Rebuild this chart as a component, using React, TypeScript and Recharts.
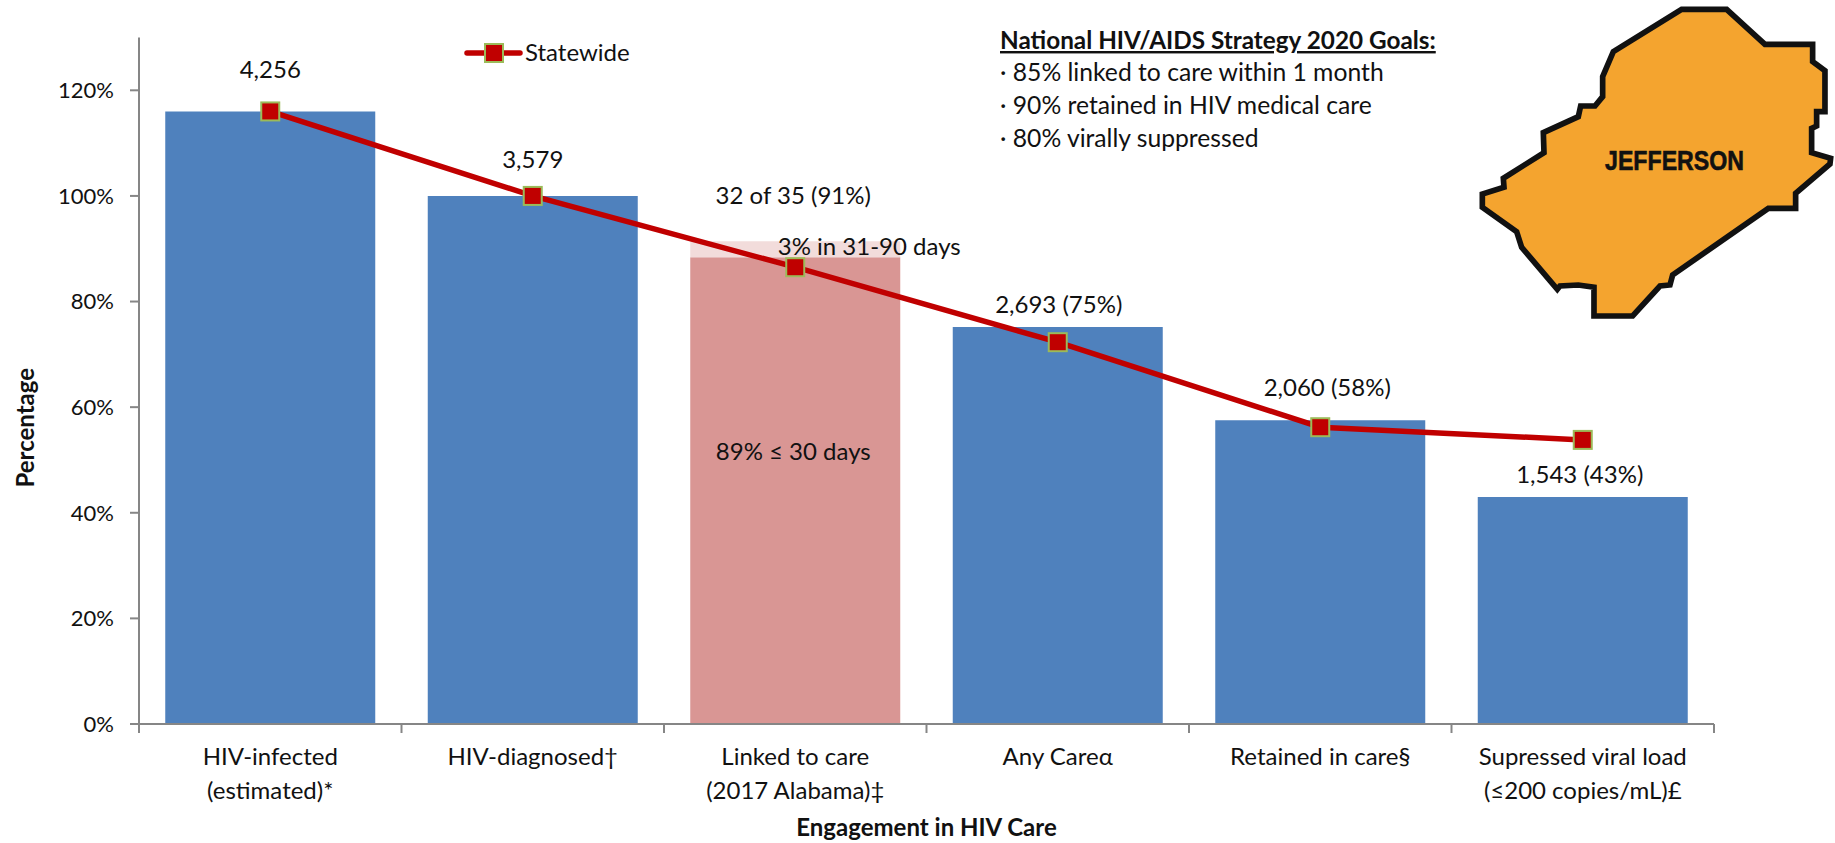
import React from "react";
import { ComposedChart, Bar, Line, XAxis, YAxis, Cell, LabelList, Legend } from "recharts";

const categories = [
  ["HIV-infected", "(estimated)*"],
  ["HIV-diagnosed†"],
  ["Linked to care", "(2017 Alabama)‡"],
  ["Any Careα"],
  ["Retained in care§"],
  ["Supressed viral load", "(≤200 copies/mL)£"],
];
const barValues = [116, 100, 88.4, 75.2, 57.5, 43];
const extraValues = [0, 0, 3, 0, 0, 0];
const statewide = [116, 100, 86.5, 72.3, 56.2, 53.8];
const topLabels = ["4,256", "3,579", "32 of 35 (91%)", "2,693 (75%)", "2,060 (58%)", "1,543 (43%)"];
const innerLabels = ["", "", "89% ≤ 30 days", "", "", ""];
const extraLabels = ["", "", "3% in 31-90 days", "", "", ""];
const yTicks = [0, 20, 40, 60, 80, 100, 120];
const goalsTitle = "National HIV/AIDS Strategy 2020 Goals:";
const goals = ["85% linked to care within 1 month", "90% retained in HIV medical care", "80% virally suppressed"];
const countyName = "JEFFERSON";
const countyOutline = [
  [695,28],[830,28],[945,133],[1088,133],[1088,185],[1125,212],[1125,335],[1100,335],[1100,378],[1085,385],
  [1085,458],[1142,475],[1140,492],[1037,580],[1037,625],[955,625],[668,825],[660,855],[630,858],[548,948],
  [432,948],[432,862],[385,855],[330,858],[322,868],[215,742],[200,695],[97,622],[97,582],[162,562],
  [160,535],[282,458],[280,398],[385,350],[392,318],[435,318],[458,290],[458,230],[490,155],
];

const data = categories.map((c, i) => ({
  name: c.join(" "),
  lines: c,
  value: barValues[i],
  extra: extraValues[i],
  statewide: statewide[i],
  topLabel: topLabels[i],
  innerLabel: innerLabels[i],
  extraLabel: extraLabels[i],
}));

const FONT = "Lato, Carlito, sans-serif";
const FS = 24;
const INK = "#111";
const AXIS = "#868686";
const W = 1835;
const H = 843;
const PLOT_L = 139;
const PLOT_R = 1714;
const PLOT_T = 37.5;
const PLOT_B = 724;
const BAND = (PLOT_R - PLOT_L) / categories.length;
const barColors = ["#4f81bd", "#4f81bd", "#d99694", "#4f81bd", "#4f81bd", "#4f81bd"];
const topGap = [41, 36, 61, 22, 32, 22];
const topShift = [0, 0, -2, 1, 7, -3];

const CategoryTick = (props: any) => {
  const { x, y, payload, index } = props;
  const lines = categories[index] || [payload.value];
  return (
    <g>
      <line x1={x - BAND / 2} x2={x - BAND / 2} y1={y - 8} y2={y + 1} stroke={AXIS} strokeWidth={2} />
      {index === categories.length - 1 && (
        <line x1={x + BAND / 2} x2={x + BAND / 2} y1={y - 8} y2={y + 1} stroke={AXIS} strokeWidth={2} />
      )}
      {lines.map((t: string, i: number) => (
        <text key={i} x={x} y={y + 33 + i * 33.5} textAnchor="middle" fontFamily={FONT} fontSize={FS} fill={INK}>
          {t}
        </text>
      ))}
    </g>
  );
};

const TopLabel = (props: any) => {
  const { x, y, width, value, index } = props;
  if (!value) return null;
  return (
    <text x={x + width / 2 + topShift[index]} y={y - topGap[index] + 8} textAnchor="middle" fontFamily={FONT} fontSize={FS} fill={INK}>
      {value}
    </text>
  );
};

const InnerLabel = (props: any) => {
  const { x, y, width, height, value } = props;
  if (!value) return null;
  return (
    <text x={x + width / 2 - 2} y={y + height / 2 - 31} textAnchor="middle" fontFamily={FONT} fontSize={FS} fill={INK}>
      {value}
    </text>
  );
};

const ExtraLabel = (props: any) => {
  const { x, y, width, value } = props;
  if (!value) return null;
  return (
    <text x={x + width / 2 + 74} y={y + 14} textAnchor="middle" fontFamily={FONT} fontSize={FS} fill={INK}>
      {value}
    </text>
  );
};

const Marker = (props: any) => {
  const { cx, cy } = props;
  return <rect x={cx - 9} y={cy - 9} width={18} height={18} fill="#c00000" stroke="#9bbb59" strokeWidth={2} />;
};

const LegendContent = () => (
  <svg width={190} height={30} style={{ display: "block", overflow: "visible" }}>
    <line x1={9} x2={62} y1={15} y2={15} stroke="#c00000" strokeWidth={5.5} strokeLinecap="round" />
    <rect x={27} y={6} width={18} height={18} fill="#c00000" stroke="#9bbb59" strokeWidth={2} />
    <text x={67} y={23} fontFamily={FONT} fontSize={FS} fill={INK}>Statewide</text>
  </svg>
);

export default function App() {
  return (
    <div style={{ position: "absolute", left: 0, top: 0, width: W, height: H, background: "#fff", overflow: "hidden" }}>
      <ComposedChart
        width={W}
        height={H}
        data={data}
        barCategoryGap="10%"
        margin={{ left: PLOT_L - 70, right: W - PLOT_R, top: PLOT_T, bottom: 0 }}
      >
        <XAxis
          dataKey="name"
          interval={0}
          height={H - PLOT_B}
          axisLine={{ stroke: AXIS, strokeWidth: 2 }}
          tickLine={false}
          tick={CategoryTick}
          label={{
            value: "Engagement in HIV Care",
            position: "insideBottom",
            offset: 7,
            style: { fontFamily: FONT, fontSize: FS, fontWeight: 700, fill: INK },
          }}
        />
        <YAxis
          width={70}
          domain={[0, 130]}
          ticks={yTicks}
          interval={0}
          tickFormatter={(v: number) => `${v}%`}
          axisLine={{ stroke: AXIS, strokeWidth: 2 }}
          tickLine={{ stroke: AXIS, strokeWidth: 2 }}
          tickSize={9}
          tickMargin={16}
          tick={{ fontFamily: FONT, fontSize: 22, fill: INK }}
          label={{
            value: "Percentage",
            angle: -90,
            position: "insideLeft",
            dx: -49,
            dy: 47,
            style: { fontFamily: FONT, fontSize: FS, fontWeight: 700, fill: INK, textAnchor: "middle" },
          }}
        />
        <Legend
          content={<LegendContent />}
          layout="horizontal"
          wrapperStyle={{ position: "absolute", left: 458, top: 38, width: 190, height: 0, overflow: "visible" }}
        />
        <Bar dataKey="value" stackId="care" isAnimationActive={false} legendType="none">
          {data.map((_, i) => (
            <Cell key={i} fill={barColors[i]} />
          ))}
          <LabelList dataKey="innerLabel" content={InnerLabel} />
          <LabelList dataKey="topLabel" content={TopLabel} />
        </Bar>
        <Bar dataKey="extra" stackId="care" fill="#f2dcdb" isAnimationActive={false} legendType="none">
          <LabelList dataKey="extraLabel" content={ExtraLabel} />
        </Bar>
        <Line
          dataKey="statewide"
          name="Statewide"
          stroke="#c00000"
          strokeWidth={5.5}
          dot={<Marker />}
          activeDot={false}
          isAnimationActive={false}
        />
      </ComposedChart>

      <svg width={W} height={H} style={{ position: "absolute", left: 0, top: 0, pointerEvents: "none" }}>
        <text x={1000} y={49} fontFamily={FONT} fontSize={24.3} fontWeight={700} fill={INK} textDecoration="underline">
          {goalsTitle}
        </text>
        {goals.map((g, i) => (
          <text key={g} x={1000} y={81 + i * 33} fontFamily={FONT} fontSize={24.7} fill={INK}>
            {"· " + g}
          </text>
        ))}
        <g transform="translate(1450 0) scale(0.3333)">
          <polygon
            points={countyOutline.map((p) => p.join(",")).join(" ")}
            fill="#f4a42f"
            stroke="#111"
            strokeWidth={17}
            strokeLinejoin="miter"
          />
        </g>
        <text
          x={1605}
          y={170}
          fontFamily="Liberation Sans, Arial, sans-serif"
          fontSize={27}
          fontWeight={700}
          fill="#111"
          stroke="#111"
          strokeWidth={0.6}
          textLength={139}
          lengthAdjust="spacingAndGlyphs"
        >
          {countyName}
        </text>
      </svg>
    </div>
  );
}
